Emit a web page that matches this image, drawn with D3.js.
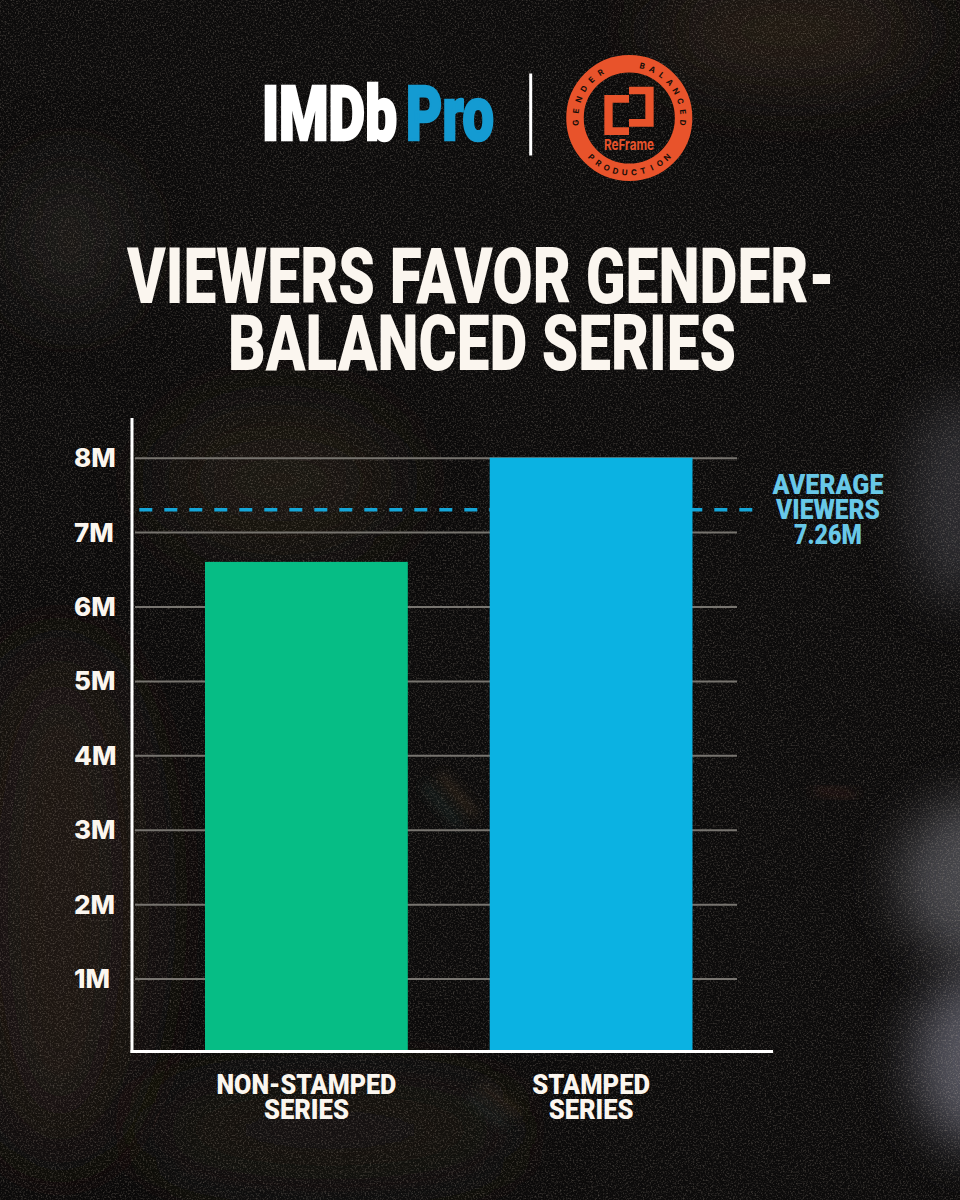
<!DOCTYPE html>
<html><head><meta charset="utf-8">
<script src="https://cdn.jsdelivr.net/npm/d3@7/dist/d3.min.js"></script>
<style>html,body{margin:0;padding:0;background:#100e0d}svg{display:block}</style>
</head><body><svg id="c" width="960" height="1200" viewBox="0 0 960 1200"></svg>
<script>
const categories = ["NON-STAMPED SERIES", "STAMPED SERIES"];
const categoryLines = [["NON-STAMPED", "SERIES"], ["STAMPED", "SERIES"]];
const viewers = [6.6, 8.0];
const barColors = ["#06bd85", "#0bb2e2"];
const tickValues = [1, 2, 3, 4, 5, 6, 7, 8];
const tickLabels = ["1M", "2M", "3M", "4M", "5M", "6M", "7M", "8M"];
const averageLine = 7.3;
const averageLabel = ["AVERAGE", "VIEWERS", "7.26M"];
const titleLines = ["VIEWERS FAVOR GENDER-", "BALANCED SERIES"];

const svg = d3.select("#c");
const defs = svg.append("defs");

// squeeze a centred text to a target width with a horizontal scale
function fit(sel, cxFn, yFn, wFn) {
  sel.attr("text-anchor", "middle").each(function (d, i) {
    const k = wFn(d, i) / this.getComputedTextLength();
    d3.select(this).attr("transform", `translate(${cxFn(d, i)},${yFn(d, i)}) scale(${k},1)`);
  });
}

const blur = (id, s) => defs.append("filter").attr("id", id)
  .attr("x", "-100%").attr("y", "-100%").attr("width", "300%").attr("height", "300%")
  .append("feGaussianBlur").attr("stdDeviation", s);
blur("b40", 40); blur("b25", 25); blur("b8", 6);

const noise = defs.append("filter").attr("id", "noise")
  .attr("x", 0).attr("y", 0).attr("width", "100%").attr("height", "100%");
noise.append("feTurbulence").attr("type", "fractalNoise").attr("baseFrequency", 0.6)
  .attr("numOctaves", 2).attr("seed", 7);
noise.append("feColorMatrix").attr("type", "matrix")
  .attr("values", "0 0 0 0 1  0 0 0 0 0.86  0 0 0 0 0.72  2.4 0 0 0 -1.15");

// background
svg.append("rect").attr("width", 960).attr("height", 1200).attr("fill", "#0c0b0b");
const glows = [
  [960, 500, 50, 105, "#4c4c52", 0.5, "b25"],
  [985, 880, 85, 85, "#5a5a60", 0.75, "b25"],
  [985, 1060, 70, 90, "#5c5c66", 0.9, "b25"],
  [790, 30, 140, 50, "#3a2c1e", 0.55, "b40"],
  [70, 240, 50, 70, "#2e2a26", 0.6, "b40"],
  [280, 480, 120, 70, "#2a2118", 0.55, "b40"],
  [60, 900, 90, 260, "#251d16", 0.65, "b40"],
  [330, 1130, 200, 50, "#221b14", 0.55, "b40"]
];
svg.append("g").selectAll("ellipse").data(glows).join("ellipse")
  .attr("cx", d => d[0]).attr("cy", d => d[1]).attr("rx", d => d[2]).attr("ry", d => d[3])
  .attr("fill", d => d[4]).attr("opacity", d => d[5]).attr("filter", d => `url(#${d[6]})`);
const streaks = [
  [440, 775, 475, 815, "#6a5030"], [425, 785, 460, 825, "#2f5048"],
  [480, 1085, 520, 1115, "#5a4028"], [470, 1095, 505, 1125, "#2f4a42"],
  [815, 790, 855, 795, "#5a2a22"]
];
svg.append("g").selectAll("line").data(streaks).join("line")
  .attr("x1", d => d[0]).attr("y1", d => d[1]).attr("x2", d => d[2]).attr("y2", d => d[3])
  .attr("stroke", d => d[4]).attr("stroke-width", 6).attr("opacity", 0.45).attr("filter", "url(#b8)");
svg.append("rect").attr("width", 960).attr("height", 1200).attr("filter", "url(#noise)").attr("opacity", 0.24);

// logos
const logo = svg.append("g").attr("font-family", "Roboto,sans-serif").attr("font-weight", 900);
const logoWords = [["IMDb", 329.5, 135, "#ffffff"], ["Pro", 450, 88, "#149bd2"]];
logo.selectAll("text").data(logoWords).join("text")
  .attr("font-size", 76).attr("fill", d => d[3]).attr("stroke", d => d[3]).attr("stroke-width", 2.6)
  .text(d => d[0]).call(fit, d => d[1], () => 140, d => d[2]);
logo.append("line").attr("x1", 530.7).attr("x2", 530.7).attr("y1", 73.5).attr("y2", 155.5)
  .attr("stroke", "#fff").attr("stroke-width", 3);

const ORANGE = "#e8532b", cx = 629.3, cy = 118;
const badge = svg.append("g").attr("transform", `translate(${cx},${cy})`);
badge.append("circle").attr("r", 54.3).attr("fill", "none").attr("stroke", ORANGE).attr("stroke-width", 17.5);
const ringLetter = (str, a0, a1, r, flip) => {
  const n = str.length;
  badge.append("g").selectAll("text").data(str.split("")).join("text")
    .attr("transform", (d, i) => {
      const a = a0 + (a1 - a0) * i / (n - 1);
      return flip ? `rotate(${-a}) translate(0,${r})` : `rotate(${a}) translate(0,${-r})`;
    })
    .attr("text-anchor", "middle").attr("font-family", "Inter,sans-serif").attr("font-weight", 700)
    .attr("font-size", 8).attr("fill", "#160d08").text(d => d);
};
ringLetter("GENDER", -95, -32, 51, false);
ringLetter("BALANCED", 14, 95, 51, false);
ringLetter("PRODUCTION", -44, 44, 57.5, true);
const ox = -cx + 560, oy = -cy + 50, s = 1 / 3;
const iconPaths = [
  [[133,135],[207,135],[207,158],[158,158],[158,232],[207,232],[207,255],[133,255]],
  [[207,110],[281,110],[281,230],[207,230],[207,207],[256,207],[256,133],[207,133]]
];
badge.selectAll("polygon").data(iconPaths).join("polygon")
  .attr("points", d => d.map(p => [ox + p[0] * s, oy + p[1] * s].join(",")).join(" "))
  .attr("fill", ORANGE);
badge.append("text").attr("font-family", "Inter,sans-serif").attr("font-weight", 700).attr("font-size", 15)
  .attr("fill", ORANGE).text("ReFrame").call(fit, () => -0.3, () => 31.5, () => 50);

// title
const titleSpec = [[481, 708, 303], [482, 508, 370]];
svg.append("g").selectAll("text").data(titleLines).join("text")
  .attr("font-family", "Roboto,sans-serif").attr("font-weight", 900).attr("font-size", 77)
  .attr("fill", "#fbf6ef").text(d => d)
  .call(fit, (d, i) => titleSpec[i][0], (d, i) => titleSpec[i][2], (d, i) => titleSpec[i][1]);

// scales
const y = d3.scaleLinear().domain([0, 8]).range([1053, 457.7]);
const x = d3.scaleBand().domain(categories).range([205, 692.5]).paddingInner(0.2877).paddingOuter(0);

// gridlines + tick labels
const grid = d3.axisLeft(y).tickValues(tickValues).tickSize(602).tickFormat("");
const gGrid = svg.append("g").attr("transform", "translate(737,0)").call(grid);
gGrid.select(".domain").remove();
gGrid.selectAll(".tick line").attr("stroke", "#77746f").attr("stroke-width", 2);

const yAxis = d3.axisLeft(y).tickValues(tickValues).tickSize(0).tickFormat((d, i) => tickLabels[i]);
const gY = svg.append("g").attr("transform", "translate(74,0)").call(yAxis);
gY.select(".domain").remove();
gY.selectAll(".tick text").attr("x", 0).attr("text-anchor", "start").attr("dy", "9px")
  .attr("font-family", "Inter,sans-serif").attr("font-weight", 800).attr("font-size", 26)
  .attr("fill", "#fbf6ef");

// average line
svg.append("line").attr("x1", 139.3).attr("x2", 760)
  .attr("y1", y(averageLine)).attr("y2", y(averageLine))
  .attr("stroke", "#14a4d6").attr("stroke-width", 3.5).attr("stroke-dasharray", "13,12");

// bars
svg.append("g").selectAll("rect").data(categories).join("rect")
  .attr("x", d => x(d)).attr("width", x.bandwidth())
  .attr("y", (d, i) => y(viewers[i])).attr("height", (d, i) => y(0) - y(viewers[i]))
  .attr("fill", (d, i) => barColors[i]);

// axis lines
svg.append("line").attr("x1", 132).attr("x2", 132).attr("y1", 418).attr("y2", 1053)
  .attr("stroke", "#fff").attr("stroke-width", 3);
svg.append("line").attr("x1", 130.5).attr("x2", 773).attr("y1", 1051.5).attr("y2", 1051.5)
  .attr("stroke", "#fff").attr("stroke-width", 3);

// category labels
const catW = [[180, 85], [118, 85]];
categories.forEach((c, i) => {
  svg.append("g").selectAll("text").data(categoryLines[i]).join("text")
    .attr("font-family", "Roboto,sans-serif").attr("font-weight", 900).attr("font-size", 28.5)
    .attr("fill", "#fbf6ef").text(t => t)
    .call(fit, () => x(c) + x.bandwidth() / 2, (t, j) => 1093.5 + j * 25, (t, j) => catW[i][j]);
});

// average label
const avgW = [111, 104, 68];
svg.append("g").selectAll("text").data(averageLabel).join("text")
  .attr("font-family", "Roboto,sans-serif").attr("font-weight", 900).attr("font-size", 27)
  .attr("fill", "#68c8e8").text(d => d)
  .call(fit, () => 828, (d, i) => 494 + i * 25, (d, i) => avgW[i]);
</script></body></html>
